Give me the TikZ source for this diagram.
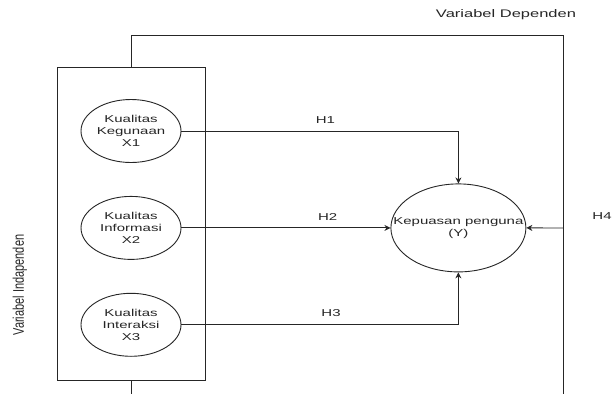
\documentclass[tikz,border=0pt]{standalone}
\usepackage{graphicx}
\usepackage{fontspec}
\setmainfont{Liberation Sans}[FakeStretch=1.5]
\newfontfamily\vertfont{Liberation Sans}
\usetikzlibrary{arrows.meta, positioning, shapes.geometric}

\begin{document}
\begin{tikzpicture}[
  x=1pt, y=-1pt, line width=0.9pt, black!85,
  var/.style={draw, ellipse, inner sep=0pt, minimum width=100pt, minimum height=63pt,
              fill=white, align=center, font=\fontsize{10}{12}\selectfont},
  group/.style={draw, fill=white, minimum width=148pt, minimum height=313pt},
  hyp/.style={font=\fontsize{10}{12}\selectfont, above=4pt},
  arr/.style={-{Stealth[length=6pt, width=6pt]}}
]
  \useasboundingbox (0,0) rectangle (613,394);

  \node[group] (indep) at (131,223.5) {};
  \node[var] (x1) at (131,131) {Kualitas\\Kegunaan\\X1};
  \node[var] (x2) [below=33pt of x1] {Kualitas\\Informasi\\X2};
  \node[var] (x3) [below=33pt of x2] {Kualitas\\Interaksi\\X3};
  \node[var, minimum width=135pt, minimum height=88pt] (y) [right=209pt of x2]
    {\makebox[0pt]{Kepuasan penguna}\\(Y)};

  \node[font=\fontsize{11}{13}\selectfont] (dep) at (506,15) {Variabel Dependen};
  \node[rotate=90, font=\vertfont\fontsize{11}{13}\selectfont] (indeplbl) at (20,285)
    {\scalebox{1}[1.4]{Variabel Indapenden}};
  \node[font=\fontsize{10}{12}\selectfont] (h4lbl) at (602,216) {H4};

  \coordinate (tr) at (563,35);
  \coordinate (br) at (563,394);
  \coordinate (bl) at (131,394);
  \coordinate (h4) at (563,228);

  \draw (indep.north) |- (tr) -- (br);
  \draw (indep.south) -- (bl);

  \draw[arr] (x1.east) -| (y.north) node[hyp, pos=0.26] {H1};
  \draw[arr] (x2.east) -- (y.west) node[hyp, pos=0.7] {H2};
  \draw[arr] (x3.east) -| (y.south) node[hyp, pos=0.27] {H3};
  \draw[arr] (h4) -- (y.east);
\end{tikzpicture}
\end{document}
